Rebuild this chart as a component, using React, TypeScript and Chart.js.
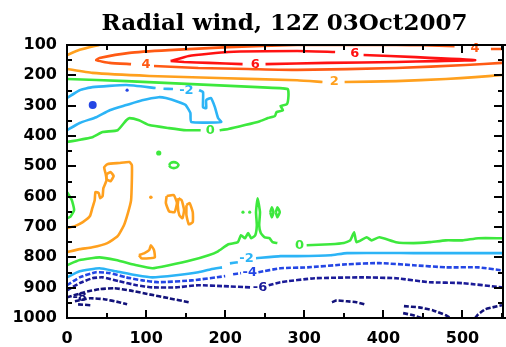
import React, { useEffect, useRef } from 'react';
import { Chart, registerables } from 'chart.js';

Chart.register(...registerables);

type Pt = [number, number] | null;

const TITLE = 'Radial wind, 12Z 03Oct2007';
const X_MIN = 0;
const X_MAX = 550;
const P_MIN = 100;
const P_MAX = 1000;

const LEVEL_COLORS: Record<string, string> = {
  '6': '#ff1212',
  '4': '#ff5a14',
  '2': '#ffa01e',
  '0': '#3de83d',
  '-2': '#2cb4f6',
  '-4': '#2446e4',
  '-6': '#1b1b98',
  '-8': '#12127a',
};

const c6_band: Pt[] = [
  [131, 153], [154, 136], [204, 123], [291, 120], [339, 123], null,
  [375, 133], [441, 140], [516, 150], [466, 153], [416, 156], [329, 159], [251, 163], null,
  [222, 163], [179, 159], [148, 156], [131, 153],
];
const c4_band: Pt[] = [
  [550, 113], [536, 113], null,
  [490, 104], [450, 101], [416, 100], [291, 100], [204, 107], [129, 117], [79, 126], [41, 143],
  [37, 150], [54, 159], [81, 163], null,
  [110, 169], [166, 176], [229, 179], [291, 182], [416, 176], [504, 166], [550, 159],
];
const c2_corner: Pt[] = [[0, 133], [16, 116], [35, 103], [41, 100]];
const c2_upper: Pt[] = [
  [0, 179], [32, 192], [104, 202], [191, 209], [291, 216], [323, 222], null,
  [351, 222], [416, 219], [479, 212], [516, 206], [550, 199],
];
const c0_upper: Pt[] = [
  [0, 212], [75, 219], [158, 229], [241, 239], [279, 245], [280, 268], [278, 295], [270, 301],
  [273, 315], [265, 321], [263, 334], [254, 341], [244, 351], [225, 364], [204, 377], [193, 381], null,
  [169, 381], [151, 381], [129, 374], [104, 364], [91, 348], [79, 341], [75, 348], [64, 381],
  [45, 387], [32, 404], [0, 420],
];
const cm2_upper: Pt[] = [
  [0, 275], [16, 249], [32, 239], [75, 232], [112, 242], null,
  [122, 244], [134, 245], null,
  [167, 249], [172, 255], [172, 305], [176, 308], [176, 282], [182, 275], [187, 305], [191, 341],
  [195, 354], [157, 354], [156, 324], [150, 298], [141, 288], [125, 275], [116, 272], [95, 282],
  [75, 298], [54, 315], [37, 338], [16, 357], [0, 381],
];
const c2_pool: Pt[] = [
  [0, 704], [10, 697], [20, 684], [29, 664], [32, 638], [35, 612], [36, 585], [40, 588], [42, 605],
  [45, 598], [46, 572], [50, 546], [49, 526], [47, 503], [51, 493], [66, 489], [79, 486], [82, 496],
  [82, 546], [81, 612], [77, 654], [72, 694], [64, 730], [51, 753], [32, 767], [16, 773], [0, 783],
];
const c2_ring: Pt[] = [[50, 526], [55, 519], [59, 532], [55, 549], [50, 542], [50, 526]];
const c2_blobA: Pt[] = [[126, 598], [135, 595], [139, 621], [136, 651], [129, 648], [125, 621], [126, 598]];
const c2_blobB: Pt[] = [[141, 605], [145, 612], [148, 644], [146, 671], [142, 661], [140, 628], [141, 605]];
const c2_blobC: Pt[] = [[151, 628], [155, 621], [159, 651], [159, 684], [154, 691], [151, 661], [151, 628]];
const c2_spike: Pt[] = [
  [91, 793], [98, 786], [104, 776], [106, 760], [110, 776], [111, 800], [104, 803], [94, 803], [91, 793],
];
const c0_oval: Pt[] = [
  [129, 496], [131, 489], [135, 486], [139, 489], [141, 496], [139, 503], [135, 506], [131, 503], [129, 496],
];
const c0_ovalR1: Pt[] = [[257, 651], [259, 635], [261, 651], [259, 668], [257, 651]];
const c0_ovalR2: Pt[] = [[264, 651], [266, 635], [269, 651], [266, 668], [264, 651]];
const c0_edge: Pt[] = [[0, 585], [6, 611], [9, 644], [4, 667], [0, 671]];
const c0_lower: Pt[] = [
  [0, 826], [16, 809], [41, 800], [62, 809], [88, 826], [108, 836], [129, 826], [158, 809],
  [179, 793], [191, 780], [204, 757], [216, 750], [220, 727], [225, 737], [229, 720], [233, 737],
  [238, 727], [240, 694], [239, 651], [241, 605], [244, 651], [243, 694], [245, 720], [250, 734],
  [256, 737], [260, 750], [266, 753], null,
  [303, 760], [333, 757], [350, 753], [358, 744], [363, 717], [366, 750], [379, 734], [385, 744],
  [395, 734], [416, 750], [438, 753], [458, 750], [479, 744], [500, 744], [520, 737], [550, 737],
];
const cm2_lower: Pt[] = [
  [0, 866], [16, 846], [41, 836], [62, 846], [88, 859], [108, 866], [138, 859], [166, 849],
  [182, 839], [196, 833], null,
  [206, 820], [216, 816], null,
  [239, 803], [270, 796], [291, 796], [333, 793], [354, 786], [438, 786], [520, 786], [550, 786],
];
const cm4_lower: Pt[] = [
  [0, 892], [16, 866], [37, 849], [54, 852], [75, 866], [95, 876], [116, 882], [158, 876],
  [200, 862], null,
  [210, 856], [220, 852], null,
  [242, 849], [270, 836], [304, 833], [354, 823], [395, 819], [438, 826], [479, 833], [520, 833],
  [550, 843],
];
const cm6_lower: Pt[] = [
  [0, 909], [16, 885], [32, 869], [45, 866], [66, 879], [88, 892], [108, 899], [138, 899],
  [166, 892], [198, 895], [232, 899], null,
  [255, 892], [270, 882], [313, 869], [375, 866], [416, 869], [458, 882], [500, 885], [550, 899],
];
const cm8_a: Pt[] = [[0, 932], [22, 915], [41, 905], [60, 902], [79, 909], [104, 922], [129, 935], [154, 948]];
const cm8_b: Pt[] = [[10, 945], [29, 935], [47, 938], [66, 948], [76, 955]];
const cm8_c: Pt[] = [[14, 955], [31, 958]];
const cm8_d: Pt[] = [[335, 948], [341, 942], [354, 945], [366, 948], [376, 955]];
const cm8_e: Pt[] = [[426, 961], [445, 965], [463, 975], [479, 991], [485, 1000]];
const cm8_f: Pt[] = [[425, 984], [438, 991], [448, 1000]];
const cm8_g: Pt[] = [[516, 1000], [520, 988], [529, 971], [538, 965], [550, 958]];

const CONTOURS: { level: number; pts: Pt[] }[] = [
  { level: 6, pts: c6_band },
  { level: 4, pts: c4_band },
  { level: 2, pts: c2_corner },
  { level: 2, pts: c2_upper },
  { level: 0, pts: c0_upper },
  { level: -2, pts: cm2_upper },
  { level: 2, pts: c2_pool },
  { level: 2, pts: c2_ring },
  { level: 2, pts: c2_blobA },
  { level: 2, pts: c2_blobB },
  { level: 2, pts: c2_blobC },
  { level: 2, pts: c2_spike },
  { level: 0, pts: c0_oval },
  { level: 0, pts: c0_ovalR1 },
  { level: 0, pts: c0_ovalR2 },
  { level: 0, pts: c0_edge },
  { level: 0, pts: c0_lower },
  { level: -2, pts: cm2_lower },
  { level: -4, pts: cm4_lower },
  { level: -6, pts: cm6_lower },
  { level: -8, pts: cm8_a },
  { level: -8, pts: cm8_b },
  { level: -8, pts: cm8_c },
  { level: -8, pts: cm8_d },
  { level: -8, pts: cm8_e },
  { level: -8, pts: cm8_f },
  { level: -8, pts: cm8_g },
];

const dotsM4: [number, number, number][] = [[32.5, 298, 4], [76, 249, 1.6]];
const dots0: [number, number, number][] = [[116, 456, 2.6], [222.5, 651, 1.6], [231, 651, 1.6]];
const dots2: [number, number, number][] = [[106, 602, 1.8]];

const labelText = ['4', '4', '6', '6', '2', '-2', '0', '0', '-2', '-4', '-6', '-8'];
const labelX = [100, 516, 238, 364, 338, 151, 181, 294, 227, 231, 244, 16];
const labelP = [166, 113, 166, 130, 222, 249, 381, 760, 803, 852, 899, 932];
const labelLevel = [4, 4, 6, 6, 2, -2, 0, 0, -2, -4, -6, -8];

const toXY = (pts: Pt[]) => pts.map((p) => (p ? { x: p[0], y: p[1] } : { x: NaN, y: null as any }));

const framePlugin = {
  id: 'frameTicks',
  afterDraw(chart: any) {
    const ctx = chart.ctx;
    const ca = chart.chartArea;
    const sx = chart.scales.x;
    const sy = chart.scales.y;
    const L = Math.round(ca.left);
    const R = Math.round(ca.right) + 1;
    const T = Math.round(ca.top);
    const B = Math.round(ca.bottom);
    ctx.save();
    ctx.setLineDash([]);
    ctx.strokeStyle = '#000';
    ctx.lineWidth = 2;
    ctx.strokeRect(L, T, R - L, B - T);
    ctx.beginPath();
    for (let v = X_MIN; v <= X_MAX; v += 50) {
      const px = Math.round(sx.getPixelForValue(v));
      const len = v % 100 === 0 ? 8 : 5;
      ctx.moveTo(px, B);
      ctx.lineTo(px, B - len);
      ctx.moveTo(px, T);
      ctx.lineTo(px, T + len);
    }
    for (let v = P_MIN; v <= P_MAX; v += 50) {
      const py = Math.round(sy.getPixelForValue(v));
      const len = v % 100 === 0 ? 9 : 5;
      ctx.moveTo(L, py);
      ctx.lineTo(L + len, py);
      ctx.moveTo(R, py);
      ctx.lineTo(R - len, py);
    }
    ctx.stroke();

    ctx.font = 'bold 13px "DejaVu Sans"';
    ctx.textAlign = 'center';
    ctx.textBaseline = 'middle';
    for (let i = 0; i < labelText.length; i++) {
      ctx.fillStyle = LEVEL_COLORS[String(labelLevel[i])];
      ctx.fillText(labelText[i], sx.getPixelForValue(labelX[i]), sy.getPixelForValue(labelP[i]));
    }
    ctx.fillStyle = '#000';
    ctx.font = 'bold 23px "DejaVu Serif"';
    ctx.textAlign = 'center';
    ctx.textBaseline = 'alphabetic';
    ctx.fillText(TITLE, (ca.left + ca.right) / 2, 30);
    ctx.restore();
  },
};

export default function App() {
  const ref = useRef<HTMLCanvasElement>(null);
  useEffect(() => {
    if (!ref.current) return;
    document.body.style.margin = '0';
    document.body.style.overflow = 'hidden';
    const datasets: any[] = CONTOURS.map((c) => ({
      type: 'line',
      data: toXY(c.pts),
      borderColor: LEVEL_COLORS[String(c.level)],
      borderWidth: 2.6,
      borderDash: c.level <= -4 ? [5, 2] : [],
      pointRadius: 0,
      fill: false,
      tension: 0.15,
      spanGaps: false,
      showLine: true,
    }));
    const dotSets: [number, [number, number, number][]][] = [[-4, dotsM4], [0, dots0], [2, dots2]];
    dotSets.forEach(([lvl, arr]) => {
      datasets.push({
        type: 'scatter',
        data: arr.map((d) => ({ x: d[0], y: d[1] })),
        pointRadius: arr.map((d) => d[2]),
        pointBackgroundColor: LEVEL_COLORS[String(lvl)],
        pointBorderWidth: 0,
        showLine: false,
      });
    });
    const chart = new Chart(ref.current, {
      type: 'scatter',
      data: { datasets },
      options: {
        animation: false,
        responsive: false,
        maintainAspectRatio: false,
        layout: { padding: { left: 0, top: 45, right: 0, bottom: 0 } },
        plugins: { legend: { display: false }, tooltip: { enabled: false }, title: { display: false } },
        scales: {
          x: {
            type: 'linear',
            min: X_MIN,
            max: X_MAX,
            position: 'bottom',
            grid: { display: false, drawTicks: false },
            border: { display: false },
            ticks: {
              stepSize: 100,
              includeBounds: false,
              autoSkip: false,
              maxRotation: 0,
              padding: 11,
              color: '#000',
              font: { family: 'DejaVu Sans', weight: 'bold', size: 16 },
              callback: (v: any) => String(v),
            },
            afterFit: (s: any) => {
              s.height = 29;
            },
          },
          y: {
            type: 'linear',
            min: P_MIN,
            max: P_MAX,
            reverse: true,
            grid: { display: false, drawTicks: false },
            border: { display: false },
            ticks: {
              stepSize: 100,
              autoSkip: false,
              padding: 10,
              color: '#000',
              font: { family: 'DejaVu Sans', weight: 'bold', size: 16 },
              callback: (v: any) => String(v),
            },
            afterFit: (s: any) => {
              s.width = 67;
            },
          },
        },
      } as any,
      plugins: [framePlugin],
    });
    return () => chart.destroy();
  }, []);
  return (
    <>
      <canvas
        ref={ref}
        width={506}
        height={347}
        style={{ display: 'block', position: 'absolute', left: 0, top: 0, background: '#fff' }}
      />
      <div
        style={{
          position: 'absolute',
          left: 66,
          top: 44,
          width: 442,
          height: 275,
          border: '2px solid #000',
          boxSizing: 'border-box',
          pointerEvents: 'none',
        }}
      />
    </>
  );
}
